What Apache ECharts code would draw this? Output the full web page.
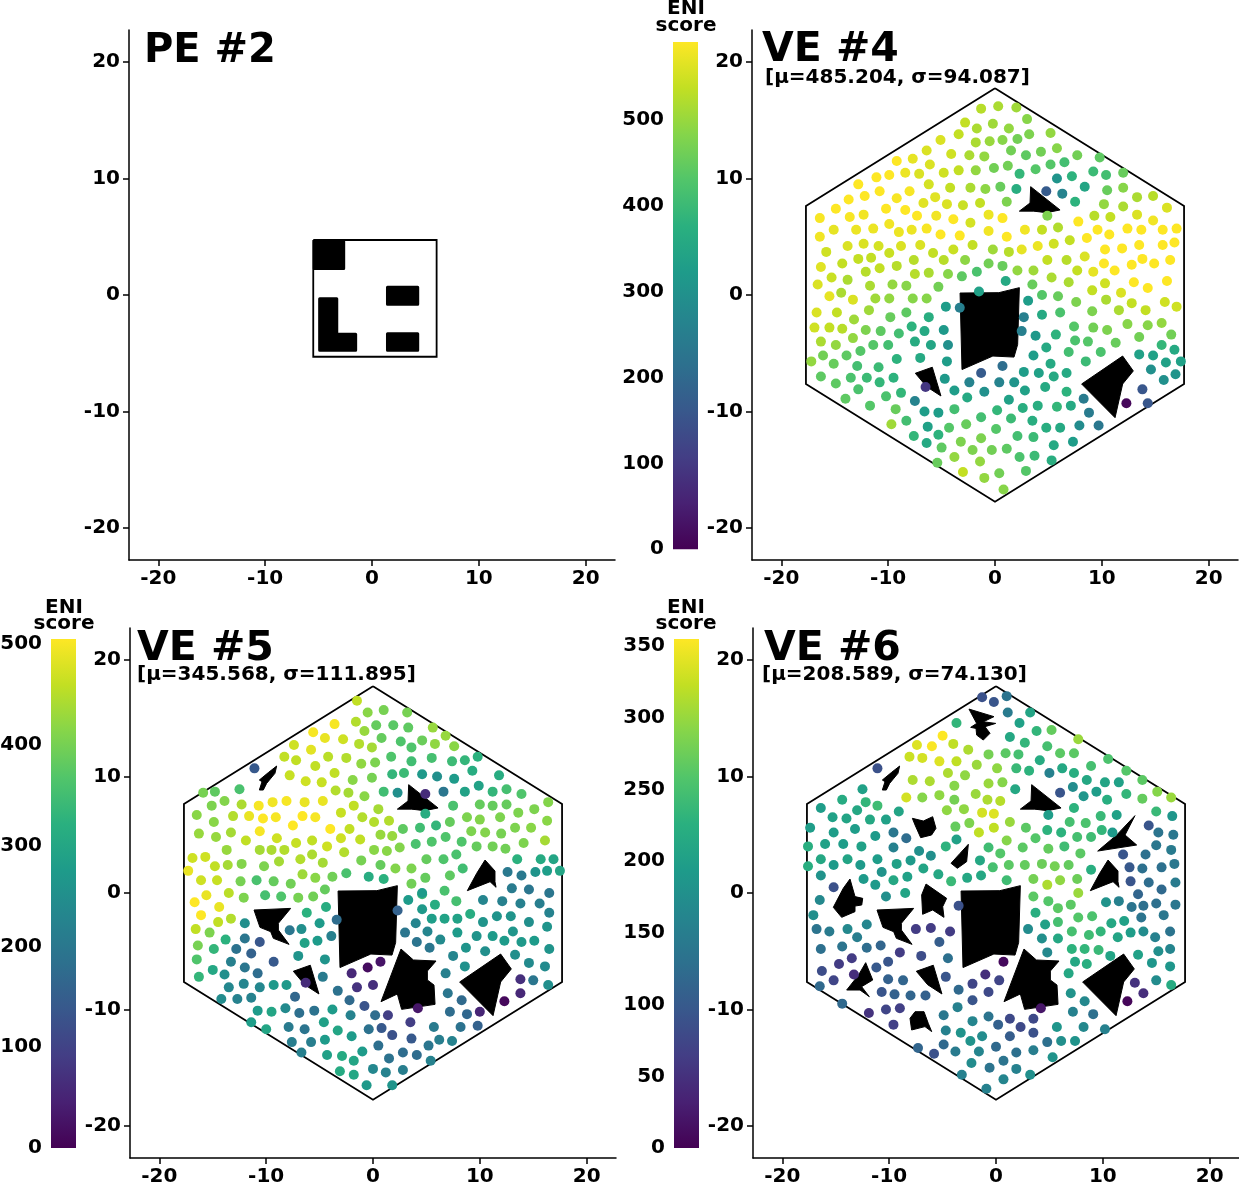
<!DOCTYPE html>
<html>
<head>
<meta charset="utf-8">
<style>html,body{margin:0;padding:0;background:#fff}#chart{width:1239px;height:1183px}</style>
<script src="https://cdn.jsdelivr.net/npm/echarts@6/dist/echarts.min.js"></script>
</head>
<body>
<div id="chart"></div>
<script>
const viridis = ['#440154','#482173','#433e85','#38588c','#2d708e','#25858e','#1e9b8a','#2ab07f','#51c56a','#85d54a','#c2df23','#fde725'];
const tickValues = [-20, -10, 0, 10, 20];

const hexagon = [[0,17.75],[17.7,7.65],[17.7,-7.65],[0,-17.75],[-17.7,-7.65],[-17.7,7.65],[0,17.75]];
const square = [[-5.5,4.72],[6.05,4.72],[6.05,-5.3],[-5.5,-5.3],[-5.5,4.72]];

// PE room blocks
const peBlocks = [
  [[-5.4,4.6],[-2.65,4.6],[-2.65,2.28],[-5.4,2.28]],
  [[-4.9,-0.33],[-3.3,-0.33],[-3.3,-3.37],[-1.53,-3.37],[-1.53,-4.74],[-4.9,-4.74]],
  [[1.45,0.67],[4.28,0.67],[4.28,-0.79],[1.45,-0.79]],
  [[1.45,-3.33],[4.28,-3.33],[4.28,-4.74],[1.45,-4.74]]
];

// obstacles shared between the VE rooms
const obsCentre = [[-3.27,0.17],[0.36,0.2],[2.28,0.63],[2.12,-4.25],[1.78,-5.33],[-0.2,-5.24],[-3.09,-6.4]];
const obsTriangle = [[3.34,9.3],[6.09,7.3],[4.84,7.07],[3.59,7.2],[2.28,7.2],[3.28,7.9]];
const obsSmall = [[-7.46,-6.72],[-5.87,-6.2],[-5.06,-8.67],[-6.4,-7.87]];
const obsQuad = [[8.11,-7.64],[11.95,-5.24],[12.95,-6.52],[11.95,-7.64],[11.24,-10.53]];
const obsStar = [[2.62,-4.81],[3.78,-5.75],[5.9,-5.84],[5.09,-6.7],[5.09,-7.47],[5.71,-7.9],[5.81,-9.56],[2.68,-9.99],[2.28,-8.67],[0.75,-9.33]];
const obsSliver = [[-9.02,10.9],[-9.18,10.27],[-9.96,9.41],[-10.27,8.84],[-10.64,8.84],[-10.39,9.56],[-10.64,9.7],[-9.77,10.36]];
const obsArrow = [[10.49,2.83],[11.42,1.89],[11.42,0.97],[11.52,0.49],[10.96,0.97],[8.83,0.2],[9.71,1.69]];
const obsWing = [[-11.14,-1.46],[-7.71,-1.32],[-8.86,-2.6],[-8.86,-3.18],[-7.86,-4.41],[-9.33,-3.89],[-9.58,-3.32],[-10.58,-2.95]];

const obsTop = [[-2.53,15.79],[-0.19,15.14],[-1.19,14.7],[-0.03,14.56],[-1.03,14.28],[-0.56,13.71],[-1.19,13.13],[-1.81,13.56],[-1.87,14.13],[-2.37,14.22],[-1.81,14.56]];
const obsBlob = [[-7.83,6.41],[-6.8,6.18],[-5.93,6.55],[-5.62,5.55],[-6.03,4.98],[-7.05,4.75],[-7.58,5.84]];
const obsShard = [[-2.59,4.18],[-2.75,2.69],[-3.62,2.12],[-4.21,2.55],[-3.37,3.4]];
const obsCross = [[13.01,6.64],[12.08,4.98],[13.17,4.12],[9.52,3.6],[11.3,4.98]];
const obsLeft = [[-13.67,1.2],[-13.2,-0.31],[-12.48,-0.46],[-12.57,-1.03],[-13.2,-1.12],[-13.2,-1.6],[-14.45,-2.09],[-15.23,-1.23],[-14.3,0.4]];
const obsMid = [[-6.55,0.77],[-4.62,-0.46],[-4.99,-1.17],[-4.87,-2.09],[-5.93,-1.46],[-6.87,-1.83],[-6.96,-0.17]];
const obsLowStar = [[-12.2,-5.98],[-11.54,-7.47],[-12.58,-8.04],[-11.86,-8.9],[-12.73,-8.33],[-13.98,-8.33],[-12.87,-7.04]];
const obsLowBlob = [[-7.58,-10.19],[-6.74,-10.19],[-6.34,-11.19],[-6.02,-11.9],[-6.65,-11.47],[-7.9,-11.76],[-8.05,-10.76]];

const ve4Obstacles = [obsCentre, obsTriangle, obsSmall, obsQuad];
const ve5Obstacles = [obsCentre, obsTriangle, obsSmall, obsQuad, obsStar, obsSliver, obsArrow, obsWing];
const ve6Obstacles = [obsCentre, obsTriangle, obsSmall, obsQuad, obsStar, obsSliver, obsArrow, obsWing, obsTop, obsBlob, obsShard, obsCross, obsLeft, obsMid, obsLowStar, obsLowBlob];

// x, y, ENI score
const ve4Points = [
[-1.3,16.0,500],[0.3,16.2,490],[2.0,16.1,480],[3.0,15.1,460],[-2.8,14.8,510],[-1.7,14.3,490],[-0.2,14.7,480],[1.3,14.3,470],[-5.1,13.3,530],[-3.4,13.8,510],
[-1.8,13.1,490],[-0.5,13.2,475],[0.7,13.3,460],[2.1,13.4,440],[3.2,13.8,450],[5.2,13.9,470],[1.5,12.4,440],[2.9,12.0,420],[4.3,12.3,440],[5.8,12.6,460],
[7.7,12.0,440],[9.8,11.8,420],[-6.4,12.4,530],[-4.1,12.1,520],[-2.4,12.0,490],[-1.0,11.9,470],[-7.7,11.7,540],[-9.2,11.5,565],[-6.1,11.2,530],[-0.1,10.9,440],
[1.2,11.1,440],[3.8,10.8,410],[5.2,11.2,410],[6.5,11.4,390],[9.2,10.6,380],[10.4,10.3,390],[12.0,10.5,430],[-11.1,10.1,570],[-9.9,10.3,560],[-8.4,10.5,545],
[-7.1,10.4,530],[-4.8,10.5,520],[-3.4,10.7,510],[-1.8,10.7,470],[2.3,10.4,370],[5.8,10.0,290],[7.2,10.2,360],[-12.8,9.5,575],[-6.2,9.5,525],[-10.8,8.9,565],
[-8.0,8.9,555],[-12.2,8.5,560],[-13.7,8.2,565],[-9.2,8.3,555],[-5.6,8.4,535],[-4.2,9.2,510],[-2.3,9.2,490],[-0.9,9.1,465],[0.5,9.3,430],[2.0,9.1,350],
[4.8,8.9,160],[6.3,8.7,250],[8.4,9.3,330],[10.5,9.0,430],[12.0,9.2,460],[13.3,8.4,490],[14.8,8.5,500],[-14.9,7.4,560],[-10.2,7.4,570],[-8.4,7.3,570],
[-6.7,7.9,535],[-4.5,7.8,530],[-3.0,7.7,515],[-1.4,7.9,510],[1.1,8.0,450],[7.5,8.0,360],[10.2,7.8,470],[12.0,7.6,490],[16.1,7.5,530],[-16.4,6.6,555],
[-13.6,6.7,555],[-12.3,6.9,550],[-7.3,6.8,560],[-5.5,6.8,550],[-3.9,6.5,560],[-0.6,6.9,545],[0.7,6.6,575],[4.9,6.8,450],[9.3,6.8,500],[10.8,6.7,510],
[13.3,6.9,530],[14.8,6.4,550],[-15.1,5.6,540],[-13.0,5.6,545],[-11.4,5.7,545],[-9.9,6.1,550],[-9.0,5.4,545],[-7.8,5.6,545],[-6.4,5.7,555],[-5.1,5.2,565],
[-2.3,6.2,525],[-0.6,5.5,550],[2.8,5.6,550],[4.4,5.6,510],[5.9,5.8,495],[7.8,6.3,560],[9.6,5.6,560],[10.7,5.2,570],[12.4,5.7,575],[13.7,5.6,575],
[15.7,5.6,575],[17.0,5.7,575],[-16.4,5.0,550],[-3.3,5.1,560],[1.1,5.0,565],[8.6,4.9,570],[-13.8,4.2,530],[-12.3,4.4,530],[-10.9,4.2,525],[-8.8,4.2,530],
[-7.0,4.3,530],[-2.1,4.3,510],[5.5,4.4,520],[7.0,4.7,510],[4.0,4.2,545],[2.5,3.9,540],[-0.2,3.9,480],[1.3,3.7,500],[10.3,3.9,575],[11.9,4.0,580],
[13.5,4.3,580],[15.7,4.3,580],[16.8,4.5,580],[-15.8,3.7,520],[-9.9,3.6,515],[-5.8,3.6,510],[-3.9,3.9,515],[-12.8,3.1,510],[-11.6,3.2,510],[-7.6,3.0,500],
[-4.8,3.0,500],[-2.8,3.0,465],[4.9,3.0,510],[6.7,3.0,500],[8.4,3.3,530],[13.8,3.1,575],[16.4,3.0,575],[10.2,2.7,560],[-16.3,2.4,535],[-14.3,2.7,510],
[-10.8,2.3,510],[-9.2,2.5,500],[-0.6,2.7,440],[0.7,2.5,430],[12.8,2.6,580],[14.9,2.7,585],[11.2,2.1,565],[-12.1,2.0,500],[-1.7,2.0,400],[2.1,2.1,470],
[3.6,2.1,480],[7.7,2.1,510],[9.2,2.0,540],[-7.5,1.8,500],[-6.2,1.9,490],[-4.4,1.8,460],[-3.1,1.6,420],[5.3,1.5,490],[-15.3,1.5,515],[-13.8,1.3,490],
[1.0,1.2,340],[-16.6,0.9,530],[-11.7,0.8,490],[-9.6,0.9,470],[-8.3,0.8,460],[-5.3,0.7,440],[3.5,0.9,430],[6.9,1.1,490],[10.3,1.0,520],[13.0,1.1,560],
[16.1,1.2,560],[14.3,0.6,560],[9.1,0.4,510],[-1.5,0.3,320],[11.8,0.2,530],[-14.4,0.2,490],[-15.5,-0.1,540],[-13.3,-0.4,530],[-11.2,-0.3,480],[-9.9,-0.3,470],
[-7.7,-0.3,460],[-6.4,-0.3,460],[3.1,-0.5,310],[4.4,0,410],[5.9,-0.1,430],[7.6,-0.6,450],[10.4,-0.4,490],[12.8,-0.7,510],[15.9,-0.6,520],[17.0,-1.0,520],
[-16.7,-1.5,530],[-14.8,-1.5,510],[-11.8,-1.3,480],[-9.8,-1.9,430],[-8.3,-1.5,420],[-4.6,-1.0,310],[-3.3,-1.1,240],[4.4,-1.7,340],[6.1,-1.5,400],[9.1,-1.4,450],
[11.6,-1.3,490],[14.1,-1.3,510],[-13.2,-2.1,480],[-6.2,-1.9,350],[2.7,-1.9,240],[-16.9,-2.8,520],[-15.5,-2.8,510],[-14.3,-2.9,500],[-12.1,-3.0,450],[-10.7,-3.1,420],
[-9.0,-3.3,390],[-7.8,-2.7,360],[-6.6,-3.1,340],[-4.8,-3.0,300],[2.5,-3.1,240],[3.8,-3.5,300],[5.7,-3.4,360],[7.4,-2.7,410],[9.2,-2.8,440],[10.5,-3.0,450],
[12.4,-2.5,460],[14.3,-2.6,460],[15.6,-2.4,470],[16.5,-3.4,440],[13.5,-3.6,440],[-16.3,-4.0,490],[-13.3,-3.7,470],[-14.9,-4.3,470],[-11.4,-4.3,410],[-10.0,-4.3,390],
[-7.5,-4.0,345],[-6.0,-4.3,330],[-4.4,-4.3,280],[4.8,-4.5,340],[7.5,-3.9,400],[8.7,-4.0,410],[11.3,-4.1,430],[15.6,-4.3,370],[16.8,-4.7,340],[-12.6,-4.8,410],
[-13.9,-5.2,420],[-16.1,-5.2,440],[-17.2,-5.7,470],[-15.1,-5.9,430],[-12.9,-6.1,390],[-9.2,-5.5,360],[-7.0,-5.4,340],[-4.5,-5.7,310],[3.6,-5.2,310],[6.9,-4.9,390],
[9.9,-4.9,400],[8.5,-5.7,380],[13.5,-5.1,320],[14.8,-5.2,320],[16.0,-5.8,320],[17.4,-5.7,320],[-10.9,-6.2,380],[0.7,-6.1,200],[5.2,-5.9,340],[-1.3,-6.7,160],
[14.6,-6.4,280],[-16.3,-7.0,420],[-14.9,-7.6,420],[-13.5,-7.1,400],[-12.0,-7.1,380],[-10.8,-7.5,370],[-9.5,-7.1,360],[-4.7,-7.2,300],[-2.4,-7.5,250],[0.4,-7.5,250],
[1.8,-7.5,290],[2.7,-6.6,310],[4.1,-6.7,320],[5.5,-7.0,340],[6.7,-6.7,340],[16.9,-6.8,290],[15.8,-7.3,280],[-12.8,-8.1,400],[-6.5,-7.9,90],[-3.8,-8.2,310],
[-1.0,-8.3,280],[2.8,-8.2,320],[4.7,-7.9,340],[6.7,-8.3,360],[13.8,-8.1,150],[-14.0,-8.9,420],[-10.2,-8.7,400],[-8.8,-8.4,370],[-7.5,-9.1,250],[-2.6,-8.8,340],
[1.3,-9.0,320],[8.3,-8.9,230],[12.3,-9.3,10],[14.3,-9.3,150],[-11.7,-9.5,410],[-9.3,-9.8,430],[-6.6,-10.0,310],[-5.3,-10.1,310],[-3.8,-9.8,390],[0.2,-9.9,370],
[2.6,-9.7,350],[4.0,-9.5,350],[5.8,-9.6,370],[7.1,-9.5,340],[8.8,-10.1,230],[-9.7,-11.1,480],[-8.3,-10.8,390],[-1.3,-10.5,390],[1.5,-10.6,380],[3.5,-10.8,350],
[-6.3,-11.3,320],[-2.7,-11.1,430],[-4.3,-11.4,410],[0.1,-11.5,410],[4.8,-11.4,350],[6.1,-11.4,340],[7.9,-11.2,270],[9.7,-11.2,220],[-7.6,-12.1,370],[-5.3,-12.0,360],
[-1.3,-12.3,450],[2.1,-12.1,390],[3.6,-12.2,380],[-6.4,-12.7,340],[-3.2,-12.6,450],[-5.0,-13.1,420],[-2.1,-13.3,450],[-0.3,-13.3,440],[1.1,-13.2,420],[5.5,-12.9,340],
[7.3,-12.6,310],[-3.8,-13.9,470],[2.3,-13.9,400],[3.7,-13.8,380],[-5.4,-14.4,430],[-1.4,-14.3,470],[5.3,-14.2,350],[-3.0,-15.2,510],[-1.0,-15.7,470],[0.4,-15.3,440],
[2.9,-15.1,410],[0.8,-16.7,460]
];

const ve5Points = [
[-1.5,16.5,440],[-0.5,15.5,400],[1.0,15.7,385],[3.2,15.5,385],[-3.6,14.5,480],[-1.6,14.7,430],[0.3,14.4,370],[1.9,14.4,360],[3.3,14.2,365],[5.6,14.2,410],
[6.8,13.5,410],[-5.6,13.8,480],[-4.5,13.3,470],[-2.8,13.2,450],[-0.8,13.9,410],[0.8,13.3,370],[2.6,13.0,350],[4.6,13.1,375],[5.8,12.8,405],[7.6,12.6,400],
[-7.4,12.7,450],[-5.8,12.3,465],[-1.3,12.8,430],[-0.1,12.5,420],[3.6,12.5,350],[-8.3,11.7,440],[-7.2,11.4,440],[-4.2,11.7,435],[-2.5,11.6,430],[1.7,11.7,350],
[5.5,11.6,340],[9.8,11.7,310],[7.4,11.3,330],[8.6,11.4,320],[-11.1,10.7,135],[-5.4,10.9,440],[-1.1,11.1,405],[0.2,11.2,390],[3.6,11.3,335],[-7.8,10.1,445],
[-3.6,10.3,440],[1.8,10.2,320],[2.9,10.3,330],[4.6,10.2,260],[6.0,10.0,240],[7.6,9.8,265],[9.3,10.5,300],[11.8,10.1,300],[-6.3,9.6,450],[-4.8,9.5,445],
[-1.9,9.7,400],[-0.1,9.9,385],[-3.5,8.8,430],[-2.3,8.6,420],[-0.8,8.3,400],[-12.5,8.9,345],[-15.9,8.6,385],[-14.8,8.7,365],[1.0,8.7,335],[2.3,8.6,240],
[4.9,8.5,60],[6.6,8.7,190],[8.6,8.7,280],[9.9,9.2,280],[11.2,8.7,320],[12.5,8.9,340],[13.9,8.5,350],[-13.9,7.9,395],[-15.1,7.5,390],[-12.3,7.6,425],
[-10.7,7.5,480],[-9.4,7.8,475],[-8.1,7.9,480],[-6.4,7.8,470],[-4.7,7.9,470],[16.4,7.8,395],[-16.5,6.7,400],[-13.1,6.6,430],[-11.6,6.6,470],[-10.3,6.4,485],
[-9.1,6.5,480],[-6.6,6.6,490],[-5.4,6.5,480],[-3.0,6.9,445],[-1.8,7.5,440],[0.5,7.2,420],[7.5,7.5,345],[10.0,7.6,370],[11.2,7.5,370],[12.5,7.6,370],
[13.6,6.9,390],[15.1,7.2,390],[-14.9,6.1,400],[-1.0,6.5,430],[0.1,6.1,430],[1.5,6.2,430],[4.9,6.8,300],[7.2,6.1,370],[8.8,6.5,390],[10.0,6.3,395],
[11.9,6.5,390],[16.3,6.2,400],[-16.3,5.1,410],[-13.3,5.2,420],[-10.6,5.3,480],[-7.5,5.8,490],[-4.0,5.5,485],[-2.2,5.5,440],[2.8,5.5,365],[4.4,5.6,335],
[5.9,5.8,320],[9.2,5.3,390],[10.5,5.2,395],[12.0,5.1,385],[13.3,5.6,390],[14.8,5.6,400],[-14.7,4.8,410],[-11.9,4.5,440],[-9.0,4.7,450],[-7.2,4.3,445],
[-5.7,4.5,440],[-3.0,4.7,450],[-1.2,4.6,440],[0.7,5.0,410],[1.8,4.9,410],[5.5,4.4,350],[6.8,4.8,350],[8.3,4.4,350],[4.0,4.2,345],[2.5,3.9,395],
[9.7,4.0,370],[11.2,4.0,380],[12.4,3.8,380],[14.1,4.3,390],[16.1,4.5,420],[-13.7,3.7,410],[-10.6,3.7,420],[-9.5,3.7,425],[-8.3,3.7,430],[-4.3,4.0,450],
[-2.7,3.5,430],[0.1,3.7,400],[1.3,3.6,400],[-16.9,3.0,450],[-15.7,3.1,450],[-6.8,2.9,430],[-5.7,3.3,425],[-1.1,2.8,385],[5.0,2.9,370],[6.6,2.9,350],
[7.8,3.3,345],[13.5,2.9,310],[15.7,2.9,295],[16.9,2.9,285],[-14.8,2.3,440],[-13.6,2.4,420],[-12.3,2.5,395],[-8.8,2.7,420],[-4.7,2.6,420],[0.7,2.4,370],
[-10.2,2.3,390],[2.1,2.1,395],[3.6,2.1,390],[8.4,2.1,335],[-17.3,1.9,470],[12.6,1.8,195],[13.9,1.5,195],[15.2,1.8,250],[16.3,1.9,270],[17.5,1.9,285],
[-6.6,1.6,415],[-5.4,1.3,400],[-3.8,1.4,380],[-2.5,1.7,345],[-0.4,1.4,300],[1.0,1.2,310],[4.9,1.3,370],[7.2,1.5,365],[-16.1,1.1,450],[-14.6,1.1,445],
[-12.4,1.0,385],[-10.9,1.1,345],[-9.3,1.0,370],[-7.7,0.8,380],[3.6,0.8,380],[13.0,0.4,200],[14.6,0.3,190],[16.5,0,190],[-4.5,0.3,370],[-13.5,0,435],
[-15.6,-0.2,470],[-16.7,-0.8,490],[-12.1,-0.4,390],[-10.1,-0.2,340],[-8.6,-0.3,350],[-7.0,-0.4,385],[-5.6,-0.3,380],[3.3,-0.6,265],[4.6,-0.1,330],[7.8,-0.7,340],
[5.8,-1.0,300],[10.3,-0.6,220],[12.1,-0.7,210],[13.8,-0.9,210],[15.6,-0.9,205],[16.5,-1.7,215],[-14.4,-1.2,470],[-16.1,-1.9,490],[-6.2,-1.7,310],[-4.4,-1.2,300],
[2.3,-1.5,150],[4.6,-1.4,260],[-14.5,-2.5,440],[-13.3,-2.2,430],[-3.4,-2.3,170],[5.5,-2.2,270],[6.7,-2.2,280],[7.9,-2.2,280],[9.1,-1.8,300],[11.6,-2.0,250],
[12.9,-2.0,250],[14.6,-2.5,240],[10.3,-2.5,250],[-16.6,-3.1,440],[-15.3,-3.4,390],[-12.0,-2.6,240],[-7.8,-3.2,190],[-6.7,-3.1,240],[-5.0,-2.6,265],[4.0,-2.6,220],
[16.3,-2.9,250],[5.1,-3.3,220],[-13.8,-4.0,310],[-12.0,-3.9,190],[-10.6,-4.2,130],[-3.9,-3.7,210],[-5.2,-4.1,265],[-6.4,-4.3,280],[3.0,-3.4,190],[7.9,-3.4,265],
[9.7,-3.7,250],[11.2,-3.7,265],[13.1,-3.3,255],[15.1,-4.1,265],[6.3,-4.0,230],[4.1,-4.2,185],[12.3,-4.1,265],[13.9,-4.2,260],[-16.4,-4.5,385],[-14.9,-4.8,320],
[-12.8,-4.8,180],[5.3,-4.7,190],[8.7,-4.7,250],[16.5,-4.8,250],[-11.4,-5.2,150],[10.5,-5.0,240],[13.3,-5.3,240],[7.5,-5.4,220],[-7.0,-5.4,250],[-16.5,-5.7,350],
[-13.3,-5.9,210],[-4.5,-5.7,250],[-9.3,-5.9,135],[0.7,-5.9,25],[-0.5,-6.4,15],[-12.0,-6.4,190],[8.6,-6.3,245],[14.6,-6.0,230],[16.1,-6.3,230],[-15.0,-6.6,290],
[-10.8,-6.9,170],[-2.0,-6.9,55],[-13.9,-7.0,240],[6.8,-6.9,210],[-16.3,-7.2,320],[-4.7,-7.2,200],[13.8,-7.4,65],[15.0,-7.5,190],[-6.3,-7.7,60],[-12.1,-7.8,220],
[-1.5,-8.1,70],[0.0,-7.9,65],[-13.5,-8.1,225],[-10.6,-8.1,225],[-9.3,-7.9,260],[-8.1,-7.9,260],[16.4,-7.9,240],[-3.3,-8.4,180],[7.0,-8.6,190],[13.8,-8.6,55],
[-14.2,-9.1,235],[-12.7,-9.1,215],[-11.4,-9.0,215],[-7.3,-8.9,160],[-2.2,-9.2,165],[8.3,-9.2,165],[12.3,-9.3,10],[-0.8,-9.7,125],[4.2,-9.9,30],[-10.8,-10.1,265],
[-9.5,-10.2,285],[-8.2,-9.9,230],[-6.9,-10.3,175],[-5.5,-10.1,180],[-3.8,-10.0,265],[0.2,-10.5,170],[1.4,-10.5,90],[7.2,-10.2,170],[8.8,-10.4,160],[10.0,-10.2,50],
[-2.1,-10.5,215],[-11.4,-11.1,270],[-10.0,-11.7,285],[-7.9,-11.5,200],[-6.4,-11.7,185],[-4.6,-11.1,275],[-3.3,-11.8,285],[-0.4,-11.7,180],[0.8,-11.6,135],[3.5,-11.1,90],
[5.7,-11.5,200],[8.2,-11.5,180],[9.8,-11.4,150],[-2.0,-12.3,265],[1.8,-12.2,120],[-7.6,-12.8,205],[-5.8,-12.8,205],[-4.5,-12.6,265],[3.6,-12.5,135],[6.2,-12.6,205],
[7.4,-12.7,215],[0.5,-13.1,175],[5.2,-13.1,190],[-6.7,-13.7,210],[-4.3,-13.9,275],[-2.9,-14.0,295],[-1.0,-13.6,265],[2.8,-13.7,170],[4.1,-13.9,170],[-1.8,-14.4,285],
[1.5,-14.2,180],[5.4,-14.4,215],[0,-15.1,225],[1.2,-15.4,215],[2.8,-15.2,205],[-3.1,-15.3,295],[-1.8,-15.6,290],[-0.6,-16.5,260],[1.8,-16.5,250],[6.7,0.2,345],
[4.6,0,265]
];

const ve6Points = [
[-1.3,16.8,85],[-0.2,16.4,90],[1.0,16.9,130],[1.1,15.5,140],[3.2,15.5,200],[-3.7,14.6,225],[2.2,14.6,195],[3.8,13.9,225],[5.2,14.0,260],[1.3,13.4,205],
[7.7,13.2,290],[2.7,12.9,225],[-5.0,13.5,345],[-7.4,12.7,325],[-6.0,12.6,340],[-4.0,12.8,310],[-2.6,12.3,300],[4.8,12.6,240],[-8.1,11.7,315],[-6.9,11.6,320],
[-5.3,11.3,325],[-3.7,11.3,310],[-0.7,11.9,270],[0.9,12.0,255],[2.1,11.9,240],[4.1,11.4,210],[6.0,12.0,255],[7.3,12.0,255],[10.5,11.5,245],[-11.1,10.7,85],
[-1.8,11.0,290],[0.1,10.7,285],[1.9,10.7,230],[3.1,10.5,220],[6.2,10.7,205],[8.9,10.9,240],[12.2,10.5,250],[-4.5,10.3,300],[-2.9,10.1,285],[5.0,10.3,150],
[7.3,10.3,215],[13.7,9.7,255],[-7.8,9.7,300],[-6.2,9.6,300],[-0.7,9.4,290],[0.6,9.5,280],[8.5,9.7,205],[10.2,9.5,200],[11.5,9.5,195],[-3.9,9.2,280],
[-12.5,8.9,195],[1.8,8.9,205],[7.2,9.1,165],[6.0,8.6,90],[9.4,8.7,190],[15.1,8.7,280],[16.4,8.2,290],[-1.9,8.5,290],[-5.3,8.4,285],[-6.9,8.2,280],
[-8.4,8.2,320],[8.2,8.3,180],[12.2,8.5,225],[13.7,8.1,260],[-14.4,8.0,210],[-3.9,8.0,270],[-0.8,8.0,300],[0.4,7.9,305],[10.4,8.0,215],[-12.2,7.8,225],
[-11.1,7.5,235],[-16.4,7.3,190],[-9.1,7.0,200],[-4.6,7.1,285],[-3.0,7.2,285],[7.3,7.3,220],[-13.0,7.1,205],[-1.3,6.9,320],[-0.2,6.8,325],[4.9,6.7,190],
[15.0,7.0,230],[-15.3,6.5,195],[-14.0,6.4,200],[-11.8,6.3,205],[-10.3,6.3,195],[9.8,6.6,230],[11.3,6.7,195],[16.5,6.6,180],[-2.5,6.0,275],[1.3,6.1,290],
[6.9,6.1,240],[8.4,6.0,245],[14.3,5.8,90],[-17.4,5.6,190],[-13.2,5.5,190],[-3.8,5.7,260],[-0.2,5.6,310],[2.8,5.6,255],[4.8,5.4,220],[6.1,5.2,220],
[9.9,5.4,225],[10.9,5.2,185],[15.2,5.2,130],[-15.2,5.2,190],[-11.3,4.9,185],[-9.6,5.2,135],[-1.6,5.2,310],[16.6,5.0,135],[-8.4,4.7,120],[-3.7,4.6,195],
[1.0,4.5,280],[3.7,4.7,250],[7.6,4.8,240],[8.9,4.8,235],[-17.6,4.0,215],[-16.0,4.2,195],[-14.3,4.2,190],[-12.6,4.0,195],[-9.6,3.9,150],[-4.7,4.0,220],
[-0.7,3.9,235],[2.5,3.9,255],[4.9,3.8,260],[6.4,4.0,235],[15.0,4.1,135],[16.4,3.7,140],[-7.2,3.6,170],[-6.1,3.2,170],[0.4,3.4,250],[7.9,3.4,255],
[11.9,3.3,90],[14.0,3.3,125],[-16.4,2.9,205],[-13.9,2.9,200],[-11.1,2.9,190],[-8.0,2.8,185],[-1.5,2.8,205],[-15.2,2.4,185],[-12.7,2.4,185],[-9.3,2.5,195],
[-17.6,2.3,215],[-0.3,2.2,240],[1.2,2.4,255],[2.7,2.4,260],[4.3,2.5,265],[5.5,2.3,270],[6.8,2.4,260],[8.9,2.0,215],[12.5,2.2,95],[13.7,2.1,125],
[15.5,2.2,125],[16.7,2.5,135],[-10.7,1.8,175],[-6.8,2.1,200],[-16.4,1.5,175],[-5.4,1.6,205],[-12.4,1.2,185],[-9.6,1.1,205],[-8.3,1.4,195],[-4.2,1.0,230],
[-2.7,1.3,205],[-1.4,1.5,205],[1.0,1.1,235],[3.5,1.2,270],[6.0,1.1,285],[7.6,1.2,265],[12.6,1.0,90],[14.3,0.9,120],[16.8,0.9,140],[4.8,0.7,300],
[-15.2,0.5,85],[-11.3,0.7,185],[15.5,0.3,115],[13.3,-0.1,110],[7.7,0,290],[-10.3,-0.3,170],[-8.5,0,200],[3.5,-0.3,255],[-16.5,-0.6,160],[4.9,-0.7,250],
[10.3,-0.8,175],[11.5,-0.7,150],[5.8,-1.3,255],[7.0,-1.0,255],[12.7,-1.2,130],[13.8,-1.1,125],[15.0,-0.9,125],[16.8,-1.0,135],[-3.5,-1.1,85],[3.7,-1.7,215],
[-17.1,-1.9,170],[7.7,-2.1,250],[9.0,-2.0,245],[13.6,-2.1,130],[15.7,-1.9,135],[-12.1,-2.7,155],[4.6,-2.7,195],[5.8,-2.5,240],[10.8,-2.6,205],[12.0,-2.4,195],
[-16.8,-3.1,130],[-15.6,-3.3,140],[-13.9,-3.1,160],[-7.5,-3.1,60],[-6.1,-3.0,60],[-4.3,-3.3,60],[3.0,-3.1,165],[7.1,-3.3,240],[9.8,-3.3,225],[8.7,-3.6,235],
[12.6,-3.4,190],[13.8,-3.3,165],[16.3,-3.3,130],[-13.0,-3.8,145],[-5.3,-4.2,100],[4.3,-3.9,170],[5.8,-3.9,205],[11.4,-3.8,200],[14.9,-3.8,150],[-16.4,-4.8,125],
[-14.4,-4.6,130],[-12.1,-4.7,120],[-10.8,-4.5,110],[7.1,-4.8,220],[8.3,-4.8,225],[9.6,-4.9,230],[16.3,-4.8,155],[4.8,-5.1,160],[15.2,-5.0,170],[-9.0,-5.1,60],
[-7.0,-5.4,80],[-13.5,-5.6,60],[-4.5,-5.6,125],[10.7,-5.4,200],[13.3,-5.3,195],[-14.7,-6.1,60],[-10.1,-5.9,90],[0.7,-5.9,8],[7.4,-5.9,205],[8.5,-6.1,215],
[14.6,-6.0,180],[-11.2,-6.4,95],[16.3,-6.3,180],[-16.3,-6.7,80],[-13.3,-7.0,45],[-1.0,-7.0,45],[6.8,-6.9,205],[-4.7,-7.2,90],[-15.2,-7.5,70],[-10.1,-7.4,105],
[-8.7,-7.5,110],[15.0,-7.5,165],[-2.2,-7.8,70],[0.3,-7.5,70],[13.0,-7.7,50],[-16.5,-8.0,115],[16.4,-7.9,210],[-10.7,-8.5,90],[-9.5,-8.7,105],[-8.0,-8.8,110],
[-6.6,-8.8,105],[-3.5,-8.3,115],[-0.7,-8.5,75],[7.0,-8.6,175],[13.8,-8.6,45],[-2.2,-9.2,90],[8.3,-9.3,160],[-14.4,-9.5,115],[12.3,-9.3,5],[-3.6,-9.8,150],
[4.2,-9.9,20],[-10.3,-10.0,70],[-9.0,-9.9,65],[-11.9,-10.3,50],[-4.9,-10.5,135],[7.2,-10.2,150],[9.1,-10.4,125],[-0.7,-10.6,130],[1.3,-10.8,75],[3.5,-10.8,75],
[-9.6,-11.3,65],[-2.2,-11.0,155],[0.2,-11.3,105],[2.3,-11.5,75],[5.7,-11.5,180],[8.2,-11.5,160],[10.2,-11.7,150],[-4.7,-11.8,150],[-3.3,-12.0,175],[3.5,-12.0,85],
[-1.3,-12.3,165],[1.3,-12.3,100],[4.8,-12.8,125],[6.1,-12.7,170],[7.4,-12.7,175],[-2.4,-12.7,175],[-4.9,-13.0,115],[-7.3,-13.3,110],[0,-13.2,115],[-3.8,-13.6,140],
[-1.6,-13.6,155],[1.9,-13.7,125],[3.5,-13.5,145],[-5.8,-13.8,85],[5.3,-14.1,175],[0.7,-14.4,130],[-2.3,-14.6,165],[-0.6,-15.0,130],[1.9,-15.1,150],[-3.2,-15.6,150],
[3.2,-15.6,170],[0.7,-16.0,155],[-0.9,-16.8,150]
];

const ve4Ticks = [0, 100, 200, 300, 400, 500];
const ve5Ticks = [0, 100, 200, 300, 400, 500];
const ve6Ticks = [0, 50, 100, 150, 200, 250, 300, 350];

const font = '"DejaVu Sans", Verdana, sans-serif';
const W = 486, H = 530;

const panels = [
  {left: 129, top: 30, outline: square, blocks: peBlocks, points: null, round: 3},
  {left: 752, top: 30, outline: hexagon, blocks: ve4Obstacles, points: ve4Points, max: 560},
  {left: 130, top: 628, outline: hexagon, blocks: ve5Obstacles, points: ve5Points, max: 485},
  {left: 753, top: 628, outline: hexagon, blocks: ve6Obstacles, points: ve6Points, max: 342}
];

const bars = [
  {left: 673, top: 42, height: 509, min: -2, max: 590, ticks: ve4Ticks},
  {left: 51, top: 639, height: 509, min: 0, max: 505, ticks: ve5Ticks},
  {left: 674, top: 639, height: 509, min: 0, max: 355, ticks: ve6Ticks}
];

const headings = [
  {text: 'PE #2', left: 144, top: 32, size: 40},
  {text: 'VE #4', left: 762, top: 30, size: 41},
  {text: '[μ=485.204, σ=94.087]', left: 765, top: 68, size: 20},
  {text: 'VE #5', left: 137, top: 629, size: 41},
  {text: '[μ=345.568, σ=111.895]', left: 137, top: 665, size: 20},
  {text: 'VE #6', left: 764, top: 629, size: 41},
  {text: '[μ=208.589, σ=74.130]', left: 762, top: 665, size: 20},
  {text: 'ENI', left: 686, top: -1, size: 20, center: true},
  {text: 'score', left: 686, top: 16, size: 20, center: true},
  {text: 'ENI', left: 64, top: 598, size: 20, center: true},
  {text: 'score', left: 64, top: 614, size: 20, center: true},
  {text: 'ENI', left: 686, top: 598, size: 20, center: true},
  {text: 'score', left: 686, top: 614, size: 20, center: true}
];

const axisBase = {
  type: 'value', min: -22.75, max: 22.75,
  splitLine: {show: false},
  axisLine: {onZero: false, lineStyle: {color: '#000', width: 1.5}},
  axisTick: {length: 6, customValues: tickValues, lineStyle: {color: '#000', width: 1.5}},
  axisLabel: {customValues: tickValues, color: '#000', fontFamily: font, fontWeight: 'bold', fontSize: 20, margin: 9}
};

const grid = [], xAxis = [], yAxis = [], series = [], visualMap = [];

function polygonItem(blocks, lineWidth) {
  return (params, api) => ({
    type: 'polygon',
    shape: {points: blocks[api.value(2)].map(p => api.coord(p))},
    style: {fill: '#000', stroke: '#000', lineWidth: lineWidth, lineJoin: 'round'}
  });
}

panels.forEach((p, i) => {
  grid.push({left: p.left, top: p.top, width: W, height: H, outerBoundsMode: 'none'});
  xAxis.push({...axisBase, gridIndex: i});
  yAxis.push({...axisBase, gridIndex: i, axisLabel: {...axisBase.axisLabel, padding: [3, 0, 0, 0]}});
  series.push({
    type: 'line', xAxisIndex: i, yAxisIndex: i, data: p.outline, symbol: 'none', silent: true, z: 2,
    lineStyle: {color: '#000', width: 1.8, join: 'miter'}
  });
  series.push({
    type: 'custom', xAxisIndex: i, yAxisIndex: i, silent: true, z: 2, clip: false,
    data: p.blocks.map((b, k) => [b[0][0], b[0][1], k]),
    renderItem: polygonItem(p.blocks, p.round || 1)
  });
  if (p.points) {
    visualMap.push({
      show: false, type: 'continuous', min: 0, max: p.max, dimension: 2,
      seriesIndex: series.length, inRange: {color: viridis}
    });
    series.push({
      type: 'scatter', xAxisIndex: i, yAxisIndex: i, data: p.points,
      symbolSize: 10, z: 4, itemStyle: {opacity: 1}
    });
  }
});

bars.forEach((b, n) => {
  const g = panels.length + n;
  grid.push({left: b.left, top: b.top, width: 25, height: b.height, outerBoundsMode: 'none'});
  xAxis.push({type: 'category', gridIndex: g, show: false, data: ['s']});
  yAxis.push({
    type: 'value', gridIndex: g, min: b.min, max: b.max, z: 6,
    splitLine: {show: false},
    axisLine: {show: false},
    axisTick: {inside: true, length: 5, customValues: b.ticks, lineStyle: {color: '#fff', width: 1}},
    axisLabel: {customValues: b.ticks, color: '#000', fontFamily: font, fontWeight: 'bold', fontSize: 20, margin: 9, padding: [3, 0, 0, 0]}
  });
  const stops = viridis.map((c, k) => ({offset: 1 - k / (viridis.length - 1), color: c}));
  series.push({
    type: 'bar', xAxisIndex: g, yAxisIndex: g, data: [b.max], barWidth: '100%', silent: true,
    itemStyle: {color: new echarts.graphic.LinearGradient(0, 0, 0, 1, stops)}
  });
});

const title = headings.map(h => ({
  text: h.text, left: h.left, top: h.top, padding: 0,
  textAlign: h.center ? 'center' : 'left',
  textStyle: {fontFamily: font, fontWeight: 'bold', fontSize: h.size, color: '#000'}
}));

const chart = echarts.init(document.getElementById('chart'), null, {renderer: 'canvas'});
chart.setOption({animation: false, backgroundColor: '#fff', title, grid, xAxis, yAxis, visualMap, series});
</script>
</body>
</html>
